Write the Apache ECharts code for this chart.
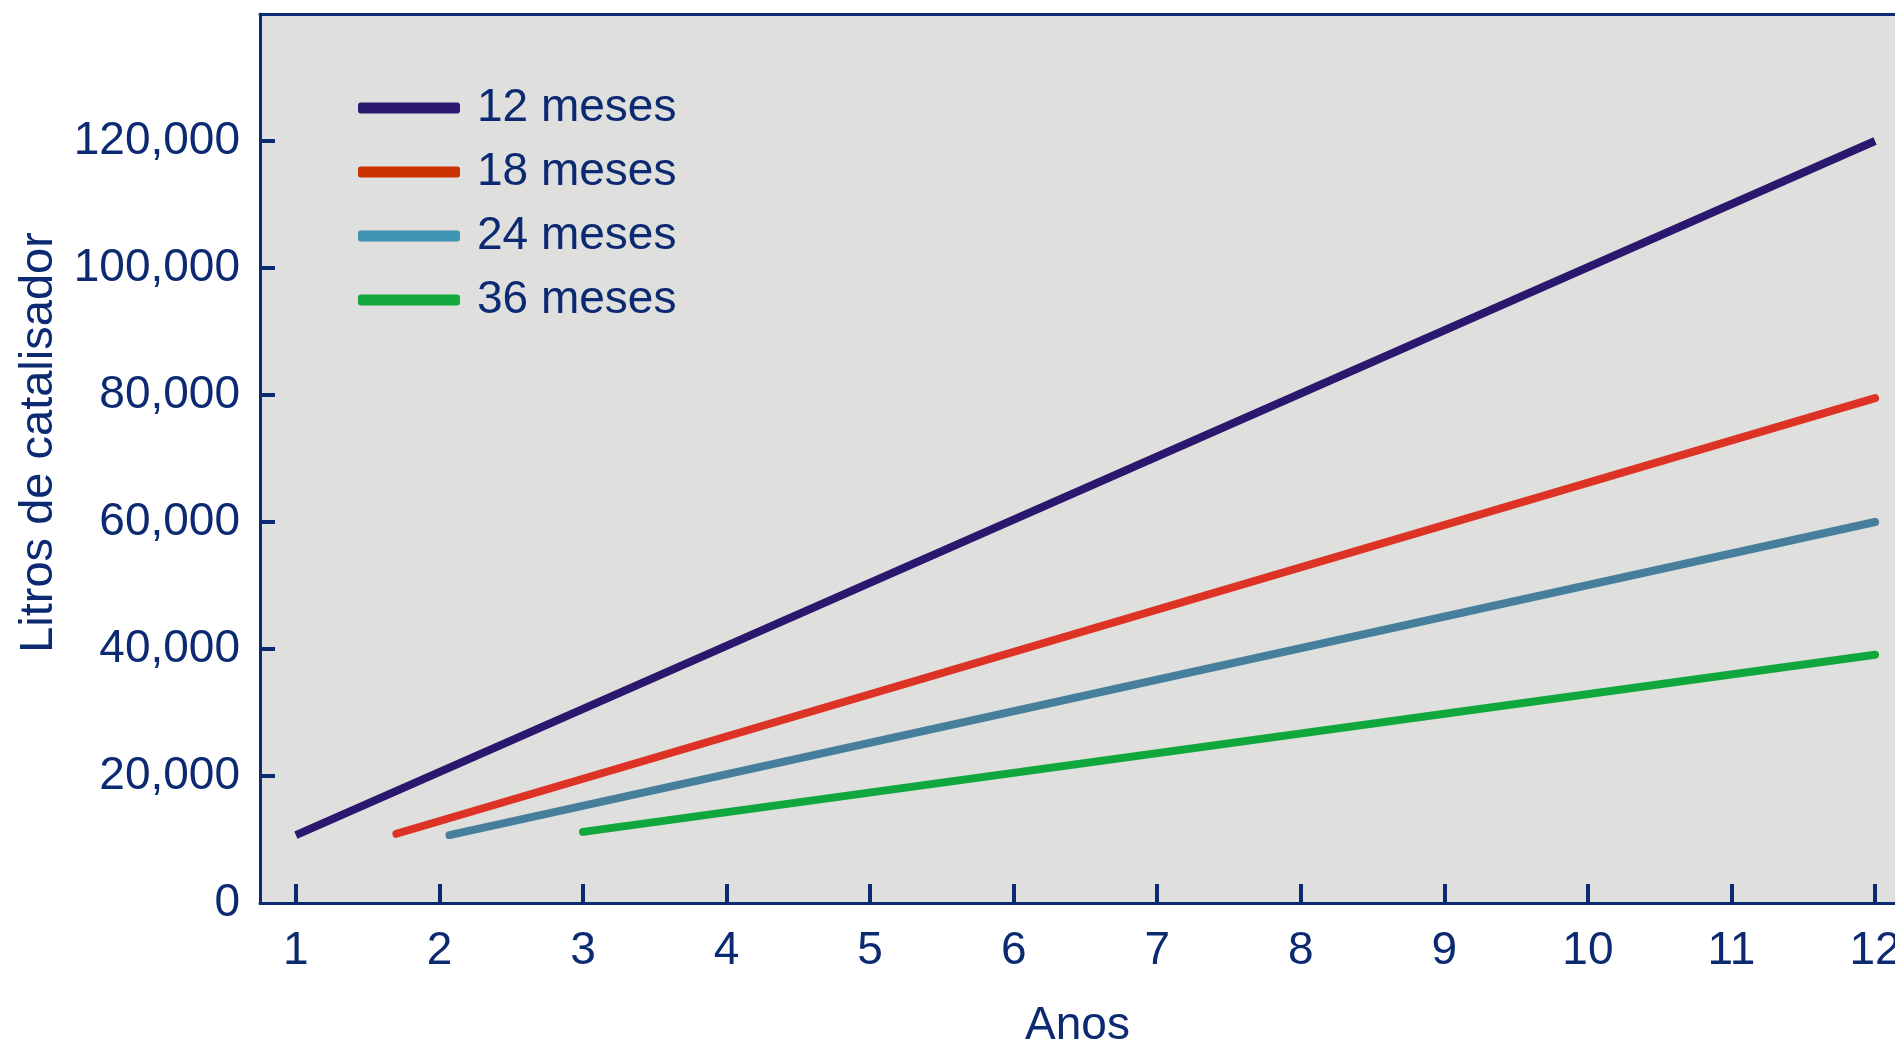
<!DOCTYPE html>
<html>
<head>
<meta charset="utf-8">
<title>Litros de catalisador</title>
<script src="https://cdn.jsdelivr.net/npm/echarts@6/dist/echarts.min.js"></script>
<style>
  html, body { margin: 0; padding: 0; background: #ffffff; }
  #chart { width: 1895px; height: 1041px; }
</style>
</head>
<body>
<div id="chart"></div>
<script>
// series names (legend)
const seriesNames = ['12 meses', '18 meses', '24 meses', '36 meses']
// [ano, litros] start and end of each line
const data12 = [[1, 10700], [12, 120000]]
const data18 = [[1.7, 10900], [12, 79500]]
const data24 = [[2.07, 10700], [12, 60000]]
const data36 = [[3, 11200], [12, 39100]]
// tick values
const xTicks = [1, 2, 3, 4, 5, 6, 7, 8, 9, 10, 11, 12]
const yTicks = [20000, 40000, 60000, 80000, 100000, 120000]

const navy = '#0b2a72'
const lineColors = ['#2a176e', '#dd3325', '#467f9c', '#10a83c']
const legendColors = ['#2b1a6e', '#cc3300', '#3d94b2', '#12a83e']
const caps = ['butt', 'round', 'round', 'round']
const allData = [data12, data18, data24, data36]

const xMin = 0.75
const xMax = 12.139

const chart = echarts.init(document.getElementById('chart'))

const option = {
  animation: false,
  backgroundColor: '#ffffff',
  textStyle: { fontFamily: 'Liberation Sans', color: navy },
  grid: {
    left: 260,
    top: 14,
    right: 0,
    bottom: 138,
    outerBoundsMode: 'none',
    show: true,
    backgroundColor: '#dfdfde',
    borderWidth: 0
  },
  legend: {
    orient: 'vertical',
    left: 353,
    top: 80,
    icon: 'roundRect',
    itemWidth: 102,
    itemHeight: 11,
    itemGap: 18,
    textStyle: {
      fontSize: 46,
      color: navy,
      fontFamily: 'Liberation Sans',
      padding: [0, 0, 0, 12]
    },
    data: seriesNames.map(function (n, i) {
      return { name: n, itemStyle: { color: legendColors[i] } }
    })
  },
  xAxis: [{
    type: 'value',
    min: xMin,
    max: xMax,
    name: 'Anos',
    nameLocation: 'middle',
    nameGap: 100,
    nameTextStyle: { fontSize: 46, color: navy },
    splitLine: { show: false },
    axisLine: { show: true, lineStyle: { color: navy, width: 3 } },
    axisTick: {
      show: true,
      inside: true,
      length: 19,
      customValues: xTicks,
      lineStyle: { color: navy, width: 4 }
    },
    axisLabel: {
      customValues: xTicks,
      fontSize: 46,
      color: navy,
      margin: 25
    }
  }, {
    // top frame line only
    type: 'value',
    position: 'top',
    min: xMin,
    max: xMax,
    splitLine: { show: false },
    axisLine: { show: true, lineStyle: { color: navy, width: 3 } },
    axisTick: { show: false },
    axisLabel: { show: false }
  }],
  yAxis: {
    type: 'value',
    min: 0,
    max: 140000,
    interval: 20000,
    name: 'Litros de catalisador',
    nameLocation: 'middle',
    nameGap: 196,
    nameTextStyle: { fontSize: 47, color: navy, padding: [0, 0, 0, 32] },
    splitLine: { show: false },
    axisLine: { show: true, lineStyle: { color: navy, width: 3 } },
    axisTick: {
      show: true,
      inside: true,
      length: 15,
      customValues: yTicks,
      lineStyle: { color: navy, width: 4 }
    },
    axisLabel: {
      showMaxLabel: false,
      fontSize: 46,
      color: navy,
      margin: 20
    }
  },
  series: []
}

for (var i = 0; i < allData.length; i++) {
  option.series.push({
    name: seriesNames[i],
    type: 'line',
    xAxisIndex: 0,
    data: allData[i],
    showSymbol: false,
    symbol: 'none',
    itemStyle: { color: lineColors[i] },
    lineStyle: { color: lineColors[i], width: 8, cap: caps[i] }
  })
}

chart.setOption(option)
</script>
</body>
</html>
